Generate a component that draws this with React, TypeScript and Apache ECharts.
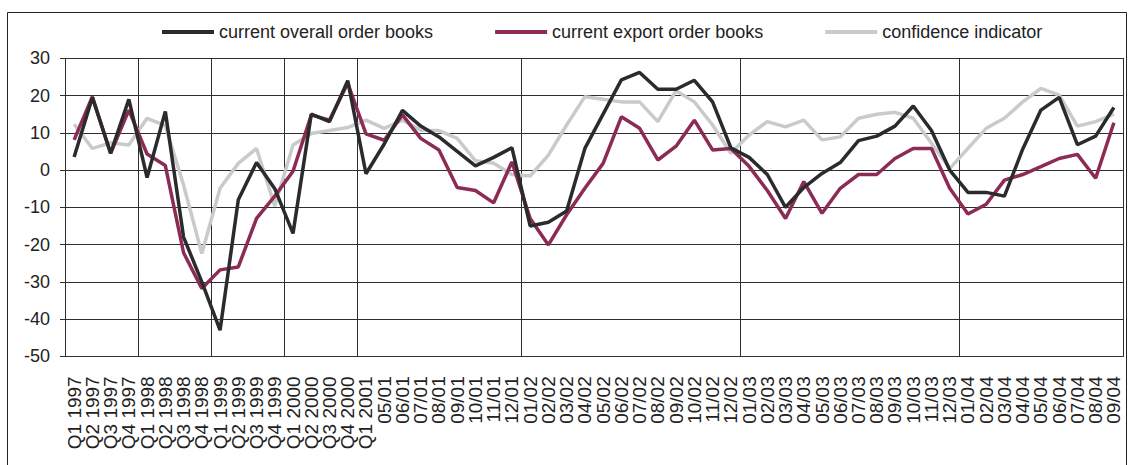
import React, { useEffect, useRef } from "react";
import * as echarts from "echarts";

const categories: string[] = [
  "Q1 1997", "Q2 1997", "Q3 1997", "Q4 1997",
  "Q1 1998", "Q2 1998", "Q3 1998", "Q4 1998",
  "Q1 1999", "Q2 1999", "Q3 1999", "Q4 1999",
  "Q1 2000", "Q2 2000", "Q3 2000", "Q4 2000",
  "Q1 2001", "05/01", "06/01", "07/01", "08/01", "09/01", "10/01", "11/01", "12/01",
  "01/02", "02/02", "03/02", "04/02", "05/02", "06/02", "07/02", "08/02", "09/02", "10/02", "11/02", "12/02",
  "01/03", "02/03", "03/03", "04/03", "05/03", "06/03", "07/03", "08/03", "09/03", "10/03", "11/03", "12/03",
  "01/04", "02/04", "03/04", "04/04", "05/04", "06/04", "07/04", "08/04", "09/04",
];

const overallOrderBooks: number[] = [
  3.5, 19.5, 4.5, 19, -2, 15.7, -18, -30, -43, -8, 2, -5, -17, 15, 13, 24,
  -1, 7, 16, 11.8, 8.9, 5, 1.1, 3.4, 6,
  -15, -14, -11, 5.8, 15, 24.2, 26.2, 21.7, 21.7, 24.1, 18.3, 6,
  3.4, -1.2, -10, -4.7, -0.9, 2, 7.9, 9.1, 11.8, 17.2, 10.6, 0,
  -6, -6, -7, 5.6, 16.1, 19.5, 6.8, 9.1, 16.8,
];

const exportOrderBooks: number[] = [
  8.1, 19.7, 4.5, 16.1, 4.3, 1.2, -22.2, -31.8, -26.8, -26, -13, -7, -0.3, 14.8, 13.4, 23.3,
  9.7, 8, 14.8, 8.5, 5.4, -4.7, -5.5, -8.8, 2.2,
  -13, -20.1, -12, -4.9, 1.8, 14.3, 11.2, 2.7, 6.4, 13.4, 5.4, 5.8,
  1, -5.5, -13, -3.1, -11.6, -4.9, -1.2, -1.2, 3.1, 5.8, 5.8, -4.9,
  -11.8, -9.2, -2.7, -1.2, 0.9, 3.1, 4.2, -2.2, 12.7,
];

const confidenceIndicator: number[] = [
  12.3, 5.8, 7.3, 6.7, 13.9, 11.9, -4, -22.4, -4.9, 1.8, 5.8, -9.7, 6.7, 9.8, 10.6, 11.4,
  13.4, 11.2, 13.4, 10.7, 10.6, 8.5, 2.5, 1.8, -1.2,
  -1.6, 4, 12.1, 19.7, 19, 18.3, 18.3, 13, 21.3, 18.3, 12.1, 4.5,
  9.4, 13, 11.6, 13.4, 8.1, 8.9, 13.9, 15, 15.5, 13.9, 7.2, 0.4,
  5.8, 11.2, 13.9, 18.3, 21.9, 20.1, 11.8, 13, 15,
];

const yearStartIndices: number[] = [4, 8, 12, 16, 25, 37, 49];

const seriesNames: string[] = [
  "current overall order books",
  "current export order books",
  "confidence indicator",
];

const FONT = "'Liberation Sans', Arial, Helvetica, sans-serif";

export default function App() {
  const ref = useRef<HTMLDivElement>(null);

  useEffect(() => {
    if (!ref.current) return;
    const chart = echarts.init(ref.current, null, { renderer: "svg" });
    const gridColor = "#2e2e2e";
    chart.setOption({
      animation: false,
      backgroundColor: "#ffffff",
      textStyle: { fontFamily: FONT },
      graphic: [
        {
          type: "rect",
          shape: { x: 7.5, y: 12.5, width: 1119, height: 470 },
          style: { fill: "none", stroke: "#222", lineWidth: 1 },
          silent: true,
        },
      ],
      legend: {
        data: seriesNames,
        left: 157,
        top: 18,
        icon: "rect",
        itemWidth: 52,
        itemHeight: 4,
        itemGap: 62,
        textStyle: { fontSize: 18, color: "#222", fontFamily: FONT, padding: [0, 0, 0, 0] },
      },
      grid: { left: 65, right: 5, top: 58.3, bottom: 108.7, containLabel: false },
      xAxis: {
        type: "category",
        data: categories,
        boundaryGap: true,
        axisLine: { show: true, onZero: false, lineStyle: { color: gridColor, width: 1 } },
        axisTick: { show: false },
        axisLabel: {
          interval: 0,
          rotate: 90,
          margin: 20,
          fontSize: 19,
          color: "#222",
          fontFamily: FONT,
        },
        splitLine: {
          show: true,
          interval: (index: number) => yearStartIndices.includes(index),
          lineStyle: { color: gridColor, width: 1 },
        },
      },
      yAxis: [
        {
          type: "value",
          min: -50,
          max: 30,
          interval: 10,
          axisLine: { show: true, lineStyle: { color: gridColor, width: 1 } },
          axisTick: { show: true, length: 5, lineStyle: { color: gridColor } },
          axisLabel: { fontSize: 18, color: "#222", margin: 15, fontFamily: FONT },
          splitLine: { show: true, lineStyle: { color: gridColor, width: 1 } },
        },
        {
          type: "value",
          position: "right",
          min: -50,
          max: 30,
          interval: 10,
          axisLine: { show: true, lineStyle: { color: gridColor, width: 1 } },
          axisTick: { show: false },
          axisLabel: { show: false },
          splitLine: { show: false },
        },
      ],
      series: [
        {
          name: seriesNames[0],
          type: "line",
          data: overallOrderBooks,
          symbol: "none",
          z: 4,
          color: "#2b2b2b",
          lineStyle: { width: 3.5, color: "#2b2b2b" },
        },
        {
          name: seriesNames[1],
          type: "line",
          data: exportOrderBooks,
          symbol: "none",
          z: 3,
          color: "#8c2b55",
          lineStyle: { width: 3.5, color: "#8c2b55" },
        },
        {
          name: seriesNames[2],
          type: "line",
          data: confidenceIndicator,
          symbol: "none",
          z: 2,
          color: "#c9caca",
          lineStyle: { width: 3.5, color: "#c9caca" },
        },
      ],
    });
    return () => chart.dispose();
  }, []);

  return (
    <div
      ref={ref}
      style={{ position: "fixed", left: 0, top: 0, width: 1128, height: 465 }}
    />
  );
}
